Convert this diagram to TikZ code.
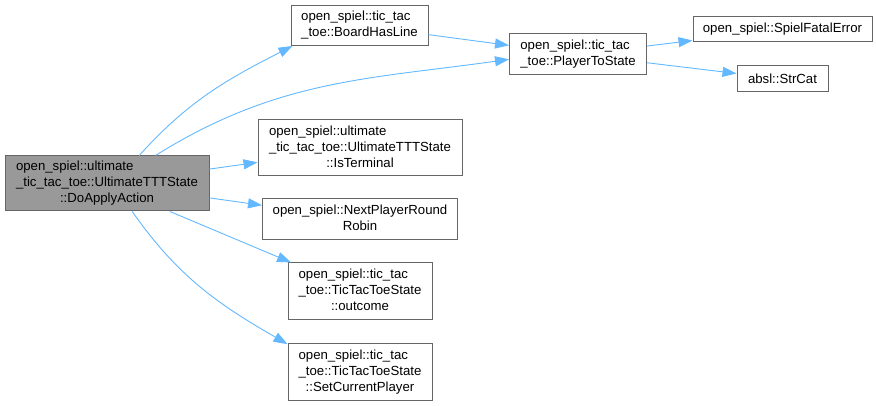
\documentclass[tikz,border=0pt]{standalone}
\usepackage{fontspec}
\setmainfont{Liberation Sans}
\usepackage{tikz}
\usetikzlibrary{arrows.meta,positioning}
\definecolor{edgeblue}{HTML}{63B8FF}
\definecolor{boxline}{HTML}{666666}
\definecolor{mainfill}{HTML}{999999}
\newcommand{\dlabel}[2]{\begin{tabular}{@{}l@{}}#1\\\multicolumn{1}{@{}c@{}}{#2}\end{tabular}}
\tikzset{
  fnbox/.style={draw=boxline, line width=1pt, fill=white, inner sep=0pt,
    font=\fontsize{13.2}{16}\selectfont},
  mainbox/.style={fnbox, fill=mainfill},
  callarr/.style={-{Triangle[length=14pt, width=10pt]}, line width=0.9pt, draw=edgeblue}
}
\begin{document}
\begin{tikzpicture}[x=1pt, y=1pt]
    \useasboundingbox (0,0) rectangle (877,406);
    \node[mainbox, minimum width=204pt, minimum height=55pt] (apply) at (107,222.5)
      {\dlabel{open\_spiel::ultimate\\\_tic\_tac\_toe::UltimateTTTState}{::DoApplyAction}};
    \node[fnbox, minimum width=137pt, minimum height=40pt] (boardline) at (359.5,380.5)
      {\dlabel{open\_spiel::tic\_tac}{\_toe::BoardHasLine}};
    \node[fnbox, minimum width=137pt, minimum height=41pt] (tostate) at (578,351.5)
      {\dlabel{open\_spiel::tic\_tac}{\_toe::PlayerToState}};
    \node[fnbox, minimum width=179pt, minimum height=25pt] (fatal) at (782.5,376.5)
      {open\_spiel::SpielFatalError};
    \node[fnbox, minimum width=91pt, minimum height=26pt] (strcat) at (782.5,327)
      {absl::StrCat};
    \node[fnbox, minimum width=204pt, minimum height=56pt] (terminal) at (360,258)
      {\dlabel{open\_spiel::ultimate\\\_tic\_tac\_toe::UltimateTTTState}{::IsTerminal}};
    \node[fnbox, minimum width=195pt, minimum height=41pt] (nextrr) at (360,187)
      {\dlabel{open\_spiel::NextPlayerRound}{Robin}};
    \node[fnbox, minimum width=144pt, minimum height=57pt] (outcome) at (360,114.5)
      {\dlabel{open\_spiel::tic\_tac\\\_toe::TicTacToeState}{::outcome}};
    \node[fnbox, minimum width=144pt, minimum height=57pt] (setplayer) at (360,34)
      {\dlabel{open\_spiel::tic\_tac\\\_toe::TicTacToeState}{::SetCurrentPlayer}};
    \draw[callarr] (apply.41) to[out=48, in=207] (boardline.197);
    \draw[callarr] (apply.30) to[out=32, in=188] (tostate.184);
    \draw[callarr] (apply.8) -- (terminal);
    \draw[callarr] (apply.-8) -- (nextrr);
    \draw[callarr] (apply.-24) -- (outcome);
    \draw[callarr] (apply.-48) to[out=-55, in=150] (setplayer.159);
    \draw[callarr] (boardline) -- (tostate);
    \draw[callarr] (tostate) -- (fatal);
    \draw[callarr] (tostate) -- (strcat);
  \end{tikzpicture}
\end{document}
